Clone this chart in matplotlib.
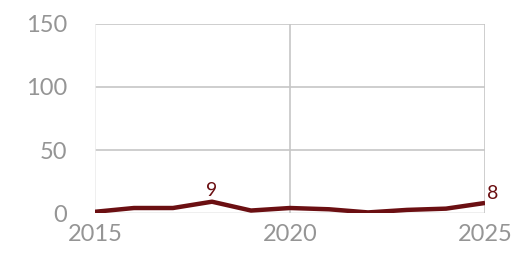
import matplotlib
matplotlib.use("Agg")
import matplotlib.pyplot as plt

# values
years = [2015, 2016, 2017, 2018, 2019, 2020, 2021, 2022, 2023, 2024, 2025]
values = [1, 4, 4, 9, 2, 4, 3, 0.5, 2.5, 3.5, 8]
yticks = [0, 50, 100, 150]
xticks = [2015, 2020, 2025]

line_col = "#6b0f12"
grey = "#959595"

plt.rcParams['font.family'] = ['Lato', 'DejaVu Sans']

fig = plt.figure(figsize=(5.16, 2.57), dpi=100)
ax = fig.add_axes([0.184, 0.171, 0.756, 0.736])

ax.plot(years, values, color=line_col, lw=3.2, solid_capstyle='butt', zorder=3)

# data labels on the peak and the last point
ax.text(2018, values[3] + 2.5, "9", color=line_col, fontsize=14, ha='center', va='bottom')
ax.text(2025.05, values[-1] + 0.5, "8", color=line_col, fontsize=14, ha='left', va='bottom')

ax.set_xlim(2015, 2025)
ax.set_ylim(0, 150)
ax.set_yticks(yticks)
ax.set_xticks(xticks)

for y in yticks[1:]:
    ax.axhline(y, color="#c6c6c6", lw=1.2, zorder=1)
ax.axhline(0, color="#ececec", lw=1.2, zorder=1)
for x in xticks[1:]:
    ax.axvline(x, color="#c6c6c6", lw=1.2, zorder=1)
ax.axvline(2015, color="#ececec", lw=1.2, zorder=1)

for s in ax.spines.values():
    s.set_visible(False)
ax.tick_params(length=0, labelsize=17, colors=grey)
ax.tick_params(axis='y', pad=20)
ax.tick_params(axis='x', pad=8)

fig.savefig("out.png", dpi=100)
